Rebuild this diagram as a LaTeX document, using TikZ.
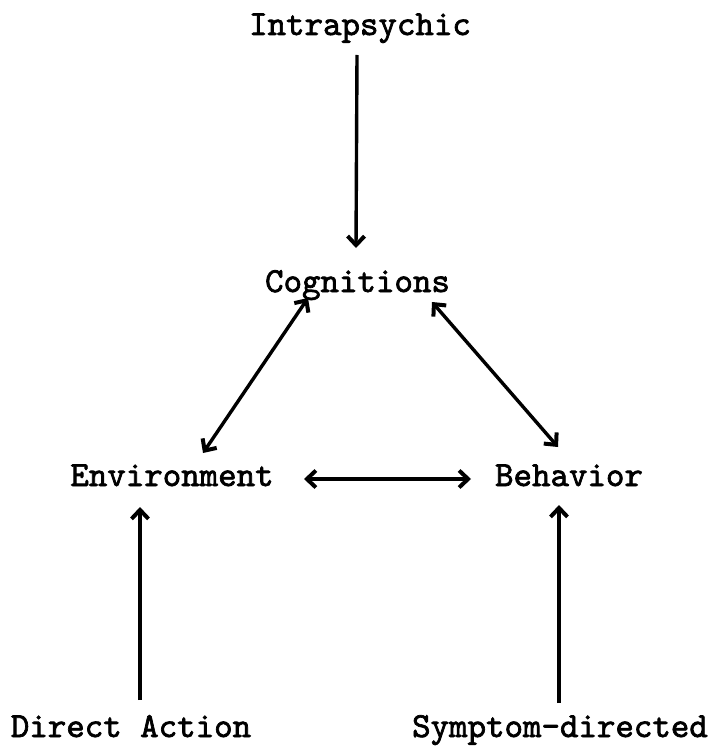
\documentclass[tikz,border=0pt]{standalone}
\usepackage{fontspec}
\newfontfamily\typefont{lmmono10-regular.otf}[FakeBold=2]
\usetikzlibrary{arrows.meta,calc}
\tikzset{
  lbl/.style={inner sep=0pt, anchor=base, font=\fontsize{35.2}{40}\selectfont\typefont},
  tip/.tip={Straight Barb[length=9pt,width=17pt,line width=4pt]},
  arr/.style={line width=3.4pt, -tip},
  darr/.style={line width=3.4pt, tip-tip},
}
\begin{document}
\begin{tikzpicture}[x=1pt,y=-1pt]
\useasboundingbox (0,0) rectangle (726,746);
\node[lbl] (intra) at (360,35) {Intrapsychic};
\node[lbl] (cog) at (357.5,292) {Cognitions};
\node[lbl] (env) at (172,486) {Environment};
\node[lbl] (beh) at (569,486) {Behavior};
\node[lbl] (da) at (131,737) {Direct Action};
\node[lbl] (sd) at (560,737) {Symptom-directed};
\draw[arr] ($(intra.base)+(-3,20)$) -- ($(cog.base)+(-1.5,-44)$);
\draw[darr] ($(cog.base)+(-49.5,6)$) -- ($(env.base)+(31,-33)$);
\draw[darr] ($(cog.base)+(74.5,10)$) -- ($(beh.base)+(-11,-39)$);
\draw[darr] ($(env.base)+(132,-7)$) -- ($(beh.base)+(-98,-7)$);
\draw[arr] ($(da.base)+(9,-37)$) -- ($(env.base)+(-32,21)$);
\draw[arr] ($(sd.base)+(-1,-34)$) -- ($(beh.base)+(-10,19)$);
\end{tikzpicture}
\end{document}
